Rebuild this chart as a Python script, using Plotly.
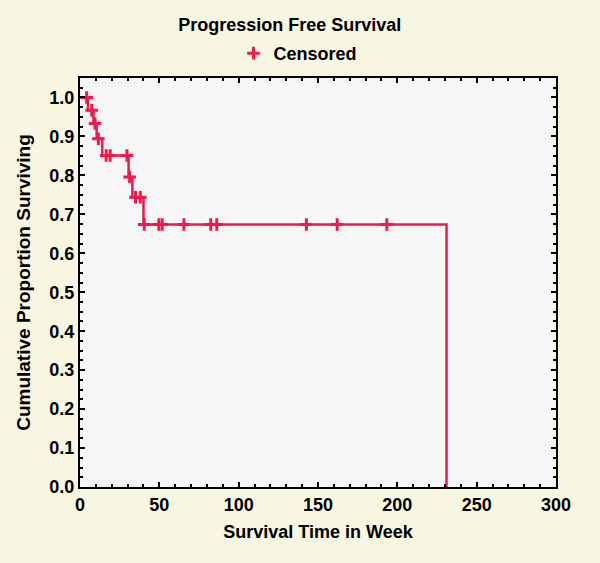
import numpy as np
import plotly.graph_objects as go

# Kaplan-Meier step function (event times and survival after each event)
event_times = [0, 5, 8.5, 10.5, 14, 30.6, 33, 40, 231]
survival = [1.0, 0.967, 0.933, 0.894, 0.851, 0.796, 0.744, 0.674, 0.0]

# Censored observation times
censored_times = [4.2, 7.4, 9.5, 11.6, 16.5, 19, 29.6, 31.3, 35, 38, 40.5,
                  49.7, 51.8, 65.5, 82.4, 86.2, 142.7, 162.1, 193.4]

x_ticks = [0, 50, 100, 150, 200, 250, 300]
y_ticks = [0.0, 0.1, 0.2, 0.3, 0.4, 0.5, 0.6, 0.7, 0.8, 0.9, 1.0]

idx = np.searchsorted(event_times, censored_times, side="right") - 1
censored_surv = [survival[i] for i in idx]

RED = "#EE1A4C"
FONT = "Liberation Sans Narrow, Liberation Sans, Arial"

fig = go.Figure()
fig.add_trace(go.Scatter(
    x=event_times, y=survival, mode="lines", line_shape="hv",
    line=dict(color=RED, width=2.5), showlegend=False, hoverinfo="skip"))
fig.add_trace(go.Scatter(
    x=censored_times, y=censored_surv, mode="markers", name="Censored",
    marker=dict(symbol="cross-thin", size=9, color=RED,
                line=dict(color=RED, width=3))))

axis_common = dict(
    showline=True, linecolor="black", linewidth=2, mirror="allticks",
    ticks="inside", ticklen=5, tickcolor="black", tickwidth=2,
    showgrid=False, zeroline=False,
    tickfont=dict(family=FONT, size=18, color="black", weight="bold"),
)

fig.update_xaxes(
    range=[0, 300], tickvals=x_ticks, ticktext=[str(v) for v in x_ticks],
    minor=dict(ticks="inside", ticklen=3, dtick=10, tickcolor="black", tickwidth=1.5),
    title=dict(text="Survival Time in Week", standoff=12,
               font=dict(family=FONT, size=18, color="black", weight="bold")),
    **axis_common)
fig.update_yaxes(
    range=[0, 1.05], tickvals=y_ticks, ticktext=[f"{v:.1f}" for v in y_ticks],
    minor=dict(ticks="inside", ticklen=3, dtick=0.025, tickcolor="black", tickwidth=1.5),
    title=dict(text="Cumulative Proportion Surviving", standoff=14,
               font=dict(family=FONT, size=19, color="black", weight="bold")),
    **axis_common)

fig.update_layout(
    width=600, height=563,
    paper_bgcolor="#F7F6E0", plot_bgcolor="#F6F6F6",
    margin=dict(l=80, r=44, t=78, b=76),
    title=dict(text="Progression Free Survival", x=0.483, xanchor="center",
               y=0.956, yanchor="middle",
               font=dict(family=FONT, size=18, color="black", weight="bold")),
    legend=dict(orientation="h", x=0.458, xanchor="center", y=1.06, yanchor="middle",
                bgcolor="rgba(0,0,0,0)", itemwidth=30,
                font=dict(family=FONT, size=18, color="black", weight="bold")),
    font=dict(family=FONT, color="black"),
)

fig.write_html("out.html", config={"displayModeBar": False},
               post_script="document.body.style.margin='0';")
